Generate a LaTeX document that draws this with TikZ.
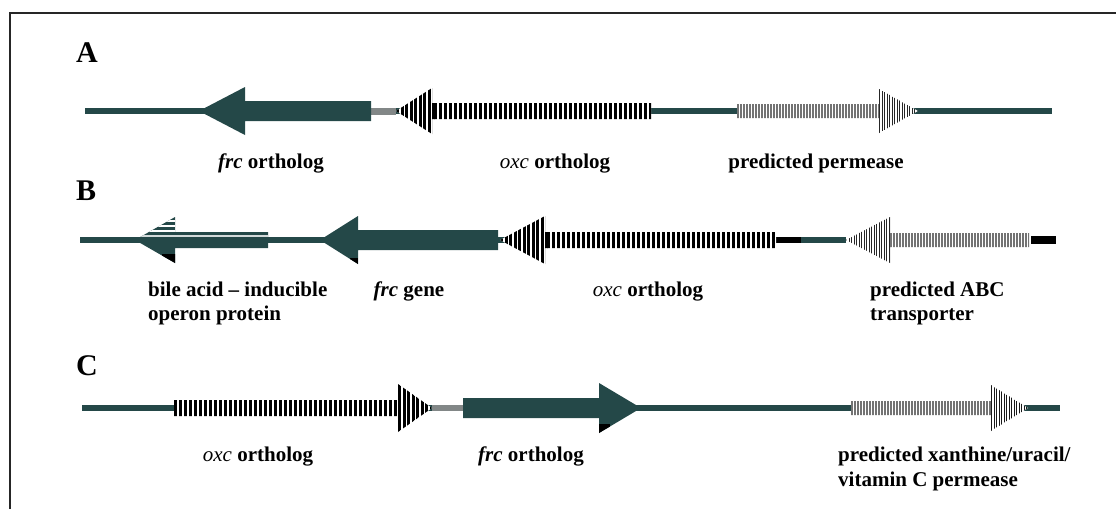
\documentclass[tikz,border=0pt]{standalone}
\usepackage{fontspec}
\setmainfont{Liberation Serif}
\definecolor{genecol}{RGB}{36,72,72}
\definecolor{linkgray}{RGB}{130,135,135}
% left/right pointing gene arrow: tip x, head-back x, shaft-end x, centre y, head half, shaft half
\newcommand{\arrpath}[6]{(#1,#4) -- (#2,#4-#5) -- (#2,#4-#6) -- (#3,#4-#6) -- (#3,#4+#6) -- (#2,#4+#6) -- (#2,#4+#5) -- cycle}
\tikzset{
  backbone/.style={line width=6pt, genecol},
  solidgene/.style={fill=genecol},
  lab/.style={font=\fontsize{21}{25}\selectfont\bfseries, inner sep=0pt, anchor=base},
  labw/.style={font=\fontsize{21}{25}\selectfont\bfseries, inner sep=0pt, anchor=base west},
  panel/.style={font=\fontsize{30}{34}\selectfont\bfseries, inner sep=0pt, anchor=base west},
  framerule/.style={line width=2.5pt, black!85},
}
\begin{document}
\begin{tikzpicture}[x=1pt,y=-1pt]
\useasboundingbox (0,0) rectangle (1116,509);
% frame
\coordinate (F0) at (10,509);
\coordinate (F1) at (10,13);
\coordinate (F2) at (1116,13);
\draw[framerule] (F0) -- (F1) -- (F2);

% ---------------- panel A ----------------
\node[panel] (pA) at (76,62) {A};
\coordinate (A0) at (85,111);
\coordinate (A1) at (1052,111);
\draw[backbone] (A0) -- (A1);
\coordinate (Ag0) at (371,111);
\coordinate (Ag1) at (396,111);
\draw[line width=7pt, linkgray] (Ag0) -- (Ag1);
% frc ortholog
\fill[solidgene] \arrpath{199}{245}{371}{111}{24}{10};
% oxc ortholog
\fill[white] \arrpath{396}{432}{651}{111}{23}{8};
\begin{scope}
  \clip \arrpath{396}{432}{651}{111}{23}{8};
  \foreach \xx in {396,400.5,...,432} \fill[black] (\xx,80) rectangle ++(3.2,62);
  \foreach \xx in {434,439,...,651} \fill[black] (\xx,80) rectangle ++(3,62);
\end{scope}
% predicted permease
\fill[white] \arrpath{918}{879}{737}{111}{22}{7};
\begin{scope}
  \clip \arrpath{918}{879}{737}{111}{22}{7};
  \foreach \xx in {737,740,...,879} \fill[black!55] (\xx,80) rectangle ++(1.6,62);
  \foreach \xx in {879,881.5,...,918} \fill[black!85] (\xx,80) rectangle ++(1.1,62);
\end{scope}
\node[lab] (lA1) at (271,168) {\textit{frc} ortholog};
\node[lab] (lA2) at (555,168) {\textmd{\textit{oxc}} ortholog};
\node[lab] (lA3) at (816,168) {predicted permease};

% ---------------- panel B ----------------
\node[panel] (pB) at (76,200) {B};
\coordinate (B0) at (80,240);
\coordinate (B1) at (776,240);
\coordinate (B2) at (801,240);
\coordinate (B3) at (846,240);
\draw[backbone] (B0) -- (B1);
\draw[line width=6pt, black] (B1) -- (B2);
\draw[backbone] (B2) -- (B3);
\coordinate (B4) at (1031,240);
\coordinate (B5) at (1056,240);
\draw[line width=8pt, black] (B4) -- (B5);
% bile acid - inducible operon protein
\fill[solidgene] \arrpath{135}{175}{268}{240}{23}{8};
\begin{scope}
  \clip \arrpath{135}{175}{268}{240}{23}{8};
  \foreach \yy in {220,225,230} \fill[white] (130,\yy) rectangle (178,\yy+1.6);
  \fill[white!80!genecol] (130,235) rectangle (270,236.5);
  \fill[black] (162,254) rectangle (176,265);
\end{scope}
% frc gene
\fill[solidgene] \arrpath{320}{358}{498}{240}{24}{10};
\begin{scope}
  \clip \arrpath{320}{358}{498}{240}{24}{10};
  \fill[black] (350,258) rectangle (359,266);
\end{scope}
% oxc ortholog
\fill[white] \arrpath{500}{545}{776}{240}{24}{8};
\begin{scope}
  \clip \arrpath{500}{545}{776}{240}{24}{8};
  \foreach \xx in {500,504.5,...,545} \fill[black] (\xx,210) rectangle ++(3.2,62);
  \foreach \xx in {547,552,...,776} \fill[black] (\xx,210) rectangle ++(3,62);
\end{scope}
% predicted ABC transporter
\fill[white] \arrpath{846}{890}{1029}{240}{23}{7};
\begin{scope}
  \clip \arrpath{846}{890}{1029}{240}{23}{7};
  \foreach \xx in {846,848.5,...,890} \fill[black!85] (\xx,210) rectangle ++(1.1,62);
  \foreach \xx in {890,893,...,1029} \fill[black!55] (\xx,210) rectangle ++(1.6,62);
\end{scope}
\node[labw] (lB1) at (148,296) {bile acid -- inducible};
\node[labw] (lB1b) at (148,320) {operon protein};
\node[lab] (lB2) at (409,296) {\textit{frc} gene};
\node[lab] (lB3) at (648,296) {\textmd{\textit{oxc}} ortholog};
\node[labw] (lB4) at (870,296) {predicted ABC};
\node[labw] (lB4b) at (870,320) {transporter};

% ---------------- panel C ----------------
\node[panel] (pC) at (76,375) {C};
\coordinate (C0) at (82,408);
\coordinate (C1) at (1060,408);
\draw[backbone] (C0) -- (C1);
\coordinate (Cg0) at (432,408);
\coordinate (Cg1) at (463,408);
\draw[line width=6pt, linkgray] (Cg0) -- (Cg1);
% oxc ortholog
\fill[white] \arrpath{432}{398}{174}{408}{24}{8};
\begin{scope}
  \clip \arrpath{432}{398}{174}{408}{24}{8};
  \foreach \xx in {174,179,...,398} \fill[black] (\xx,378) rectangle ++(3,62);
  \foreach \xx in {398,402.5,...,432} \fill[black] (\xx,378) rectangle ++(3.2,62);
\end{scope}
% frc ortholog
\fill[solidgene] \arrpath{641}{599}{463}{408}{25}{10};
\begin{scope}
  \clip \arrpath{641}{599}{463}{408}{25}{10};
  \fill[black] (598,424) rectangle (610,436);
\end{scope}
% predicted xanthine/uracil/vitamin C permease
\fill[white] \arrpath{1028}{991}{851}{408}{23}{7};
\begin{scope}
  \clip \arrpath{1028}{991}{851}{408}{23}{7};
  \foreach \xx in {851,854,...,991} \fill[black!55] (\xx,378) rectangle ++(1.6,62);
  \foreach \xx in {991,993.5,...,1028} \fill[black!90] (\xx,378) rectangle ++(1.2,62);
\end{scope}
\node[lab] (lC1) at (258,461) {\textmd{\textit{oxc}} ortholog};
\node[lab] (lC2) at (531,461) {\textit{frc} ortholog};
\node[labw] (lC3) at (838,461) {predicted xanthine/uracil/};
\node[labw] (lC3b) at (838,486) {vitamin C permease};
\end{tikzpicture}
\end{document}
